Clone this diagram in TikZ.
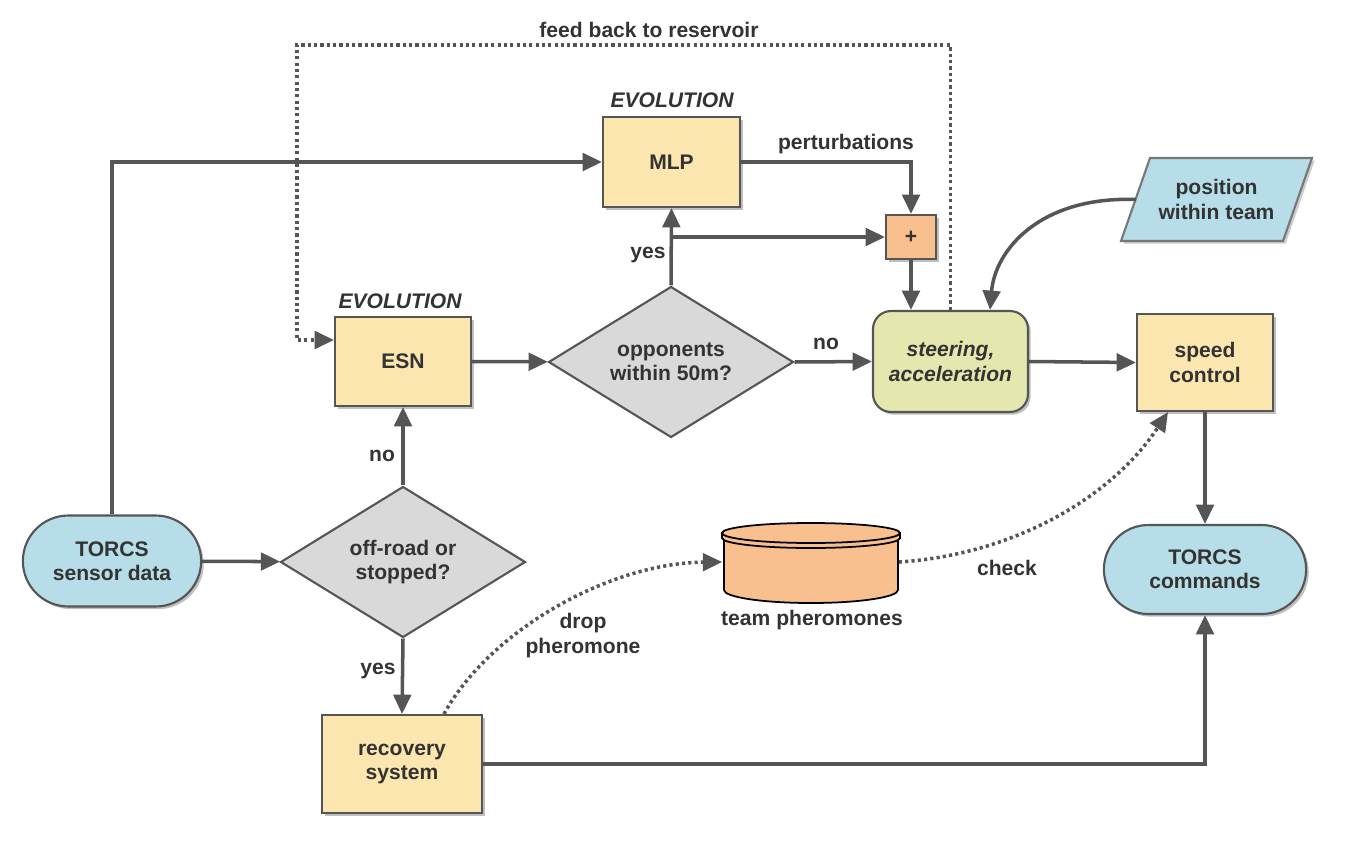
\documentclass[tikz,border=0pt]{standalone}
\usepackage{fontspec}
\setmainfont{Liberation Sans}
\usetikzlibrary{shapes.geometric,shapes.misc,arrows.meta,shadows,calc}
\definecolor{bordc}{RGB}{85,85,85}
\definecolor{linec}{RGB}{85,85,85}
\definecolor{txtc}{RGB}{51,51,51}
\definecolor{yel}{RGB}{252,230,175}
\definecolor{gry}{RGB}{217,217,217}
\definecolor{blu}{RGB}{182,221,232}
\definecolor{grn}{RGB}{228,232,174}
\definecolor{ora}{RGB}{249,192,143}
\tikzset{
  shad/.style={drop shadow={shadow xshift=1.5pt,shadow yshift=-1.5pt,opacity=0.25,fill=black}},
  box/.style={rectangle,draw=bordc,line width=1.2pt,fill=yel,align=center,text=txtc,shad},
  stad/.style={rounded rectangle,draw=bordc,line width=1.2pt,fill=blu,align=center,text=txtc,shad},
  dia/.style={diamond,draw=bordc,line width=1.2pt,fill=gry,align=center,text=txtc,
    minimum width=4.9cm,minimum height=3.02cm,inner sep=0pt,aspect=1.62},
  lbl/.style={text=txtc,align=center,yshift=-1.5pt},
  conn/.style={draw=linec,line width=2pt,-{Triangle[length=11pt,width=10pt]}},
  dotconn/.style={draw=linec,line width=2pt,dash pattern=on 1.8pt off 1.8pt,-{Triangle[length=11pt,width=10pt]}},
}
\begin{document}
\begin{tikzpicture}[x=0.02cm,y=-0.02cm,font=\bfseries\fontsize{12}{13.8}\selectfont]
\useasboundingbox (0,0) rectangle (1355,852);

% nodes
\node[stad,minimum width=3.8cm,minimum height=1.82cm] (sens) at (112,561) {TORCS\\sensor data};
\node[dia] (off) at (403,562) {off-road or\\stopped?};
\node[box,minimum width=2.72cm,minimum height=1.78cm] (esn) at (403,361.5) {ESN};
\node[lbl,font=\bfseries\itshape\fontsize{12}{13.8}\selectfont] (ev1) at (400,299) {EVOLUTION};
\node[dia] (opp) at (671,362) {opponents\\within 50m?};
\node[box,minimum width=2.74cm,minimum height=1.8cm] (mlp) at (671.5,162) {MLP};
\node[lbl,font=\bfseries\itshape\fontsize{12}{13.8}\selectfont] (ev2) at (672,98) {EVOLUTION};
\node[box,fill=ora,minimum width=1cm,minimum height=0.88cm] (plus) at (911,237) {+};
\node[rectangle,rounded corners=0.36cm,draw=bordc,line width=1.2pt,fill=grn,align=center,text=txtc,shad,
  minimum width=3.1cm,minimum height=2.02cm,font=\bfseries\itshape\fontsize{12}{13.8}\selectfont] (steer) at (950.5,361.5) {steering,\\acceleration};
\node[box,minimum width=2.72cm,minimum height=1.94cm] (speed) at (1205,362.5) {speed\\control};
\node[stad,minimum width=4.28cm,minimum height=1.78cm] (cmd) at (1205,569.5) {TORCS\\commands};
\node[box,minimum width=3.2cm,minimum height=1.96cm] (rec) at (402,764) {recovery\\system};

% parallelogram
\fill[black,opacity=0.2] ($(1150,158)+(1.5pt,-1.5pt)$) -- ($(1312,158)+(1.5pt,-1.5pt)$) -- ($(1283,241)+(1.5pt,-1.5pt)$) -- ($(1121,241)+(1.5pt,-1.5pt)$) -- cycle;
\draw[draw=bordc!80,line width=1.2pt,fill=blu] (1150,158) -- (1312,158) -- (1283,241) -- (1121,241) -- cycle;
\node[lbl,yshift=1.5pt] (pos) at (1216.5,199.5) {position\\within team};
\coordinate (posw) at (1136,199.5);

% cylinder
\node[minimum width=3.5cm,minimum height=1.6cm] (pher) at (811,562) {};
\draw[black,line width=1pt,fill=ora] (724,538) -- (724,590) arc[start angle=180,end angle=0,x radius=87,y radius=13] -- (898,538) -- cycle;
\draw[black,line width=1pt,fill=ora] (722,533) -- (722,538) arc[start angle=180,end angle=0,x radius=89,y radius=10] -- (900,533) -- cycle;
\draw[black,line width=1pt,fill=ora] (811,533) ellipse[x radius=89,y radius=10];
\node[lbl] (pherl) at (812,617) {team pheromones};

% connectors
\draw[conn] (sens) -- (off);
\draw[conn] (sens.north) |- (mlp.west);
\draw[conn] (off.north) -- (esn.south);
\node[lbl] (no1) at (382,453) {no};
\draw[conn] (off.south) -- (rec.north);
\node[lbl] (yes1) at (378,668) {yes};
\draw[conn] (esn) -- (opp);
\draw[conn] (opp.north) -- (mlp.south);
\node[lbl] (yes2) at (648,252) {yes};
\draw[conn] (opp.north |- plus.west) -- (plus.west);
\draw[conn] (mlp.east) -| (plus.north);
\node[lbl] (pert) at (846,141) {perturbations};
\draw[conn] (plus.south) -- (plus.south |- steer.north);
\draw[conn] (opp.east) -- (steer.west);
\node[lbl] (no2) at (826,341) {no};
\draw[conn] (steer.east) -- (speed.west);
\draw[conn] (speed.south) -- (cmd.north);
\draw[conn] (rec.east) -| (cmd.south);
\draw[conn] (posw) .. controls (1040,196) and (995,250) .. ($(steer.north)+(39.5,0)$);

% dotted
\coordinate (fbc) at (297,45);
\draw[dotconn] (steer.north) |- (fbc) |- ($(esn.west)+(0,-21.5)$);
\node[lbl] (fbl) at (649,27) {feed back to reservoir};
\draw[dotconn] ($(rec.north)+(42,0)$) .. controls (490,630) and (610,563) .. ($(pher.west)+(-1,0)$);
\node[lbl] (dropl) at (583,633) {drop\\pheromone};
\draw[dotconn] (pher.east) .. controls (1010,555) and (1110,500) .. ($(speed.south)+(-37,0)$);
\node[lbl] (chk) at (1007,565) {check};
\end{tikzpicture}
\end{document}
